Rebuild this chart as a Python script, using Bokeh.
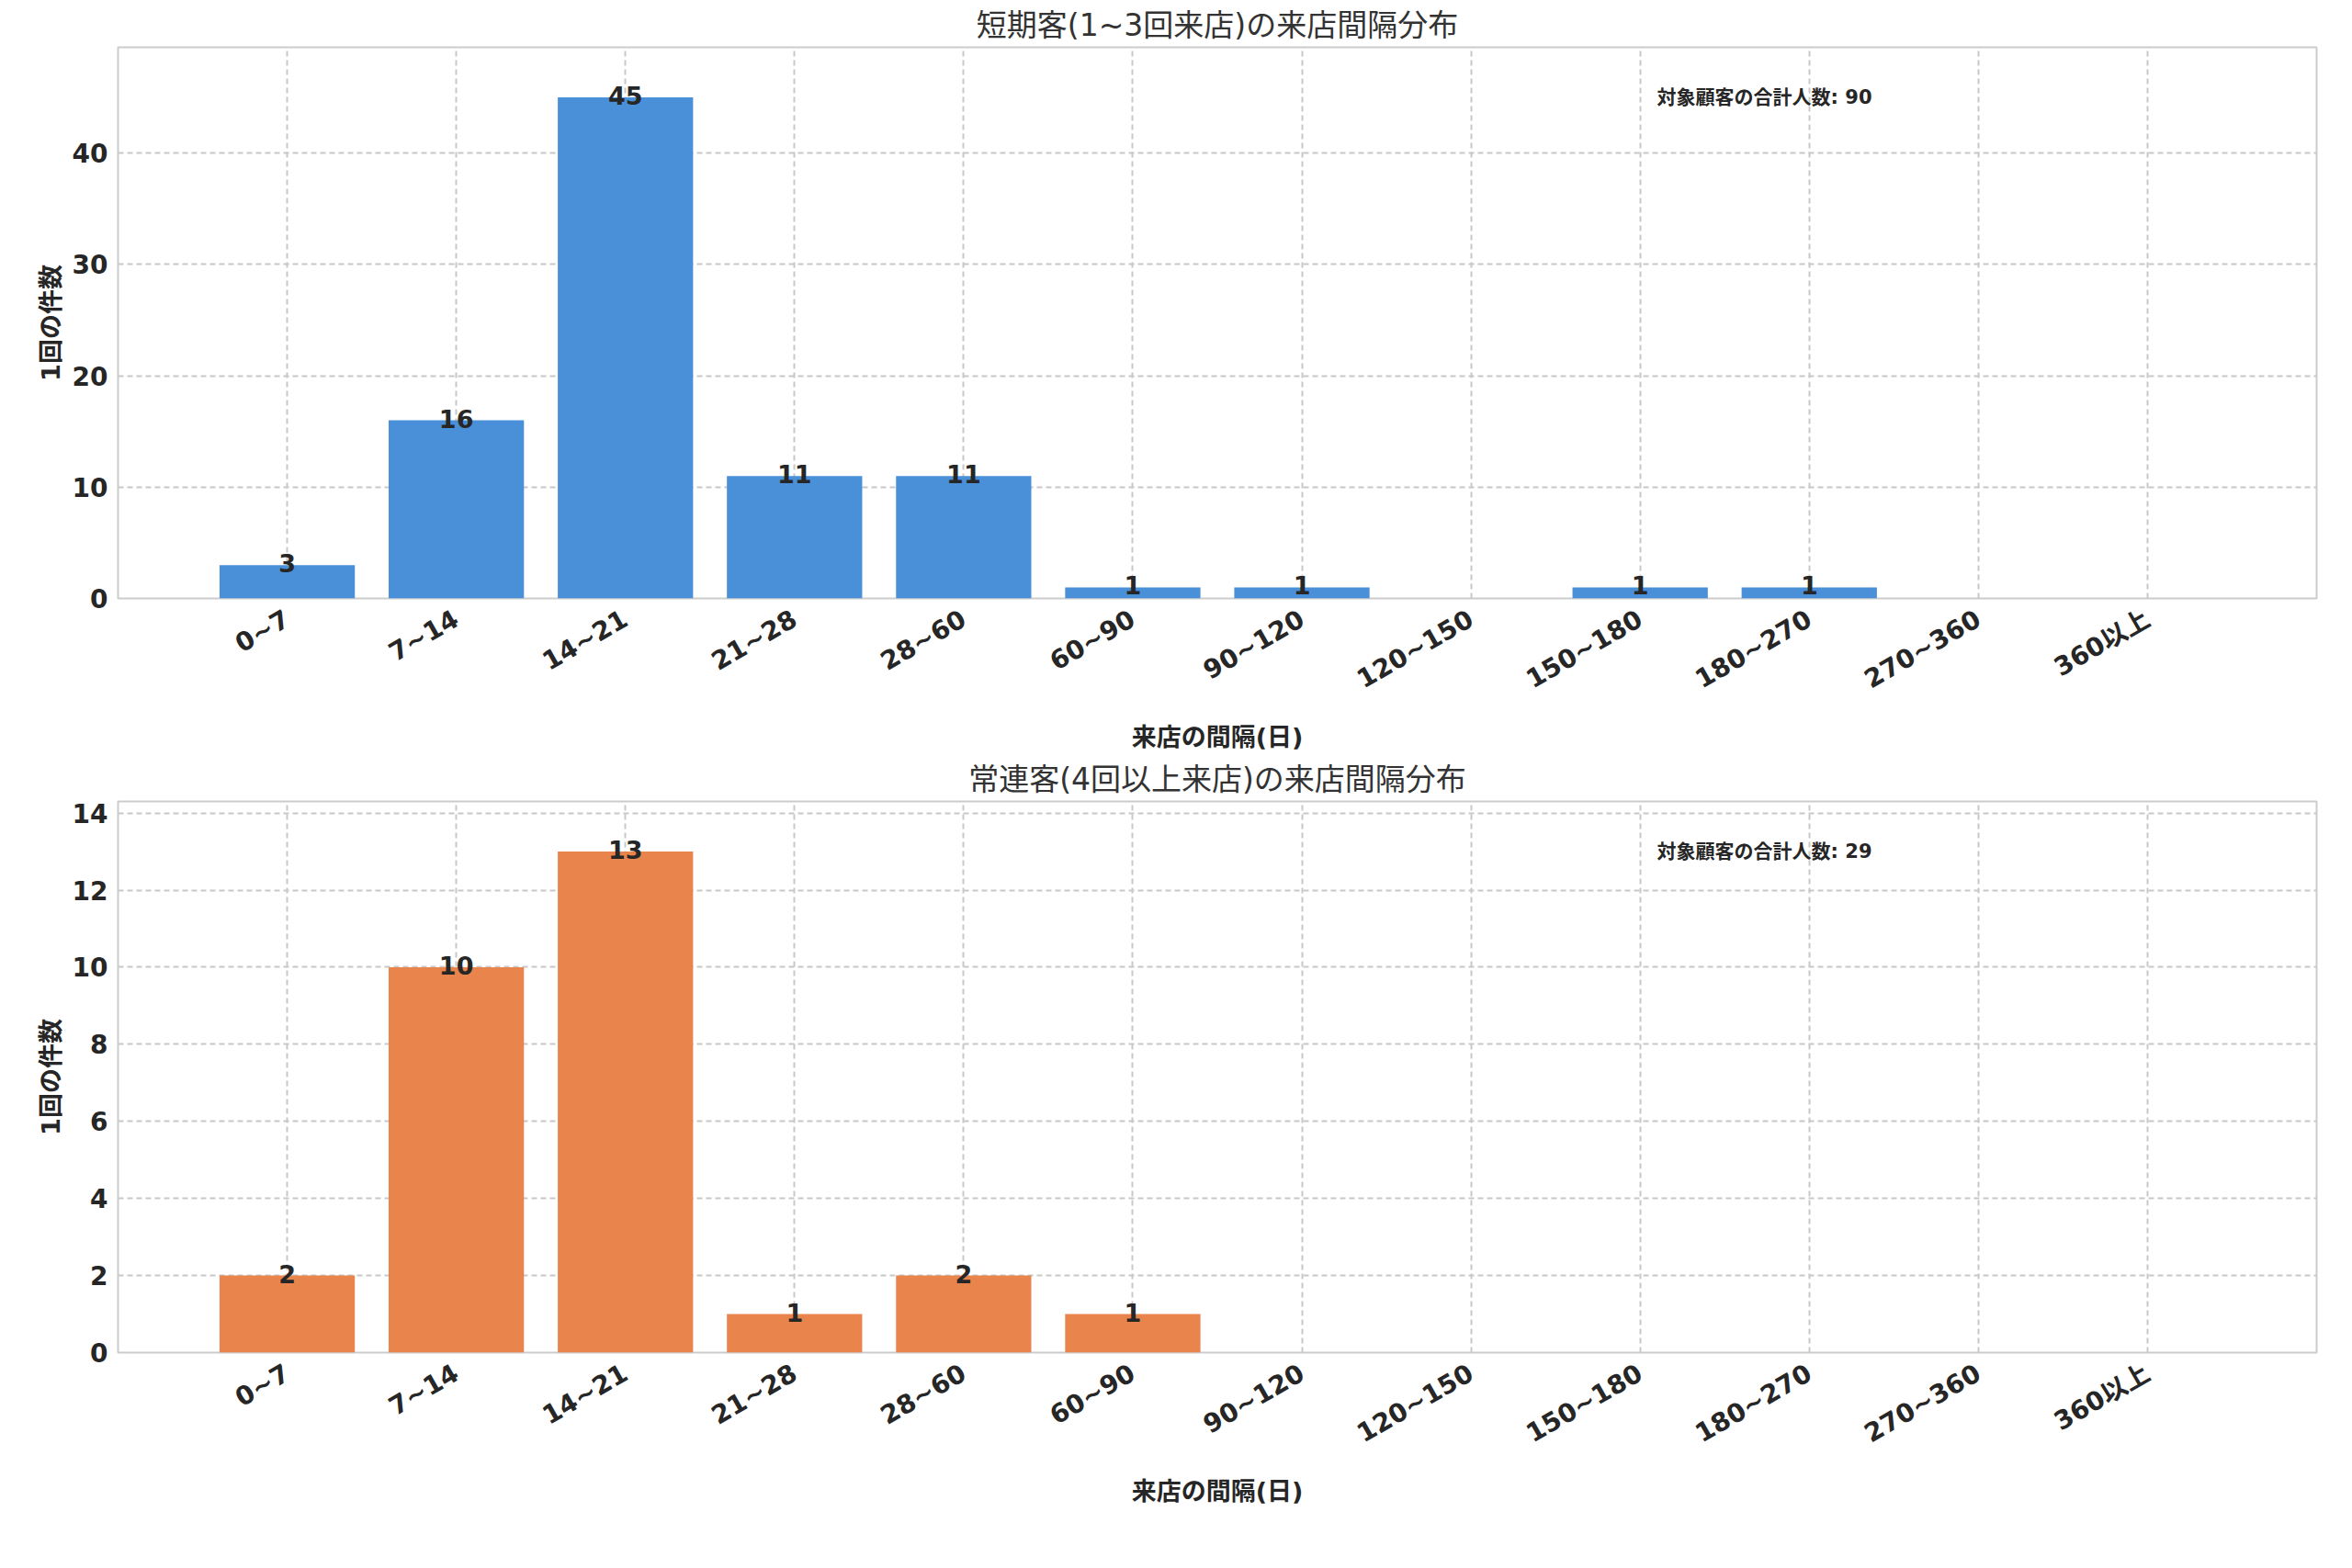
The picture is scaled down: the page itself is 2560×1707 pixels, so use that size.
import math
from bokeh.plotting import figure
from bokeh.layouts import column
from bokeh.models import ColumnDataSource, FixedTicker, Range1d, Label
from bokeh.core.properties import value
from bokeh.embed import file_html
from bokeh.resources import INLINE

categories = ["0~7", "7~14", "14~21", "21~28", "28~60", "60~90", "90~120",
              "120~150", "150~180", "180~270", "270~360", "360以上"]
counts_top = [3, 16, 45, 11, 11, 1, 1, 0, 1, 1, 0, 0]
counts_bottom = [2, 10, 13, 1, 2, 1, 0, 0, 0, 0, 0, 0]
title_top = "短期客(1~3回来店)の来店間隔分布"
title_bottom = "常連客(4回以上来店)の来店間隔分布"
total_top = 90
total_bottom = 29
xlabel = "来店の間隔(日)"
ylabel = "1回の件数"
FONT = "DejaVu Sans, Noto Sans CJK JP"

def make(counts, title, total, color, ymax, yticks, border_top):
    p = figure(frame_width=2393, frame_height=600, output_backend="svg",
               toolbar_location=None, x_range=Range1d(-1, 12), y_range=Range1d(0, ymax),
               min_border_left=128, min_border_right=20, min_border_top=border_top,
               min_border_bottom=10, title=title)
    p.title.align = "center"
    p.title.text_font = FONT
    p.title.text_font_size = "33px"
    p.title.text_font_style = "normal"
    p.title.text_color = "#333333"
    idx = list(range(len(categories)))
    src = ColumnDataSource(dict(x=idx, top=counts,
                                lab=[str(c) if c > 0 else "" for c in counts]))
    p.vbar(x="x", top="top", width=0.8, source=src, color=color, line_color=None)
    p.text(x="x", y="top", text="lab", source=src, text_align="center",
           text_baseline="bottom", text_font=value(FONT), text_font_size="27px",
           text_font_style="bold", text_color="#262626", y_offset=8)
    p.add_layout(Label(x=8.1, y=ymax * 0.91, text=f"対象顧客の合計人数: {total}",
                       text_font=FONT, text_font_size="21px", text_font_style="bold",
                       text_color="#262626", text_baseline="middle"))
    p.xaxis.ticker = FixedTicker(ticks=idx)
    p.xaxis.major_label_overrides = {i: c for i, c in enumerate(categories)}
    p.xaxis.major_label_orientation = math.radians(30)
    p.xaxis.major_label_standoff = 14
    p.yaxis.ticker = FixedTicker(ticks=yticks)
    for ax in (p.xaxis, p.yaxis):
        ax.major_label_text_font = FONT
        ax.major_label_text_font_size = "28px"
        ax.major_label_text_font_style = "bold"
        ax.major_label_text_color = "#262626"
        ax.axis_label_text_font = FONT
        ax.axis_label_text_font_size = "27px"
        ax.axis_label_text_font_style = "bold"
        ax.axis_label_text_color = "#262626"
        ax.axis_line_color = None
        ax.major_tick_line_color = None
        ax.minor_tick_line_color = None
    p.xaxis.axis_label = xlabel
    p.xaxis.axis_label_standoff = 14
    p.yaxis.axis_label = ylabel
    p.grid.grid_line_color = "#c8c8c8"
    p.grid.grid_line_dash = "6 4"
    p.grid.grid_line_width = 2
    p.outline_line_color = "#cccccc"
    p.outline_line_width = 2
    p.background_fill_color = "white"
    return p

p1 = make(counts_top, title_top, total_top, "#4A90D9", 49.5, [0, 10, 20, 30, 40], 24)
p2 = make(counts_bottom, title_bottom, total_bottom, "#E8844C", 14.3, list(range(0, 15, 2)), 24)
p = column(p1, p2)
open("out.html", "w").write(file_html(p, INLINE))
